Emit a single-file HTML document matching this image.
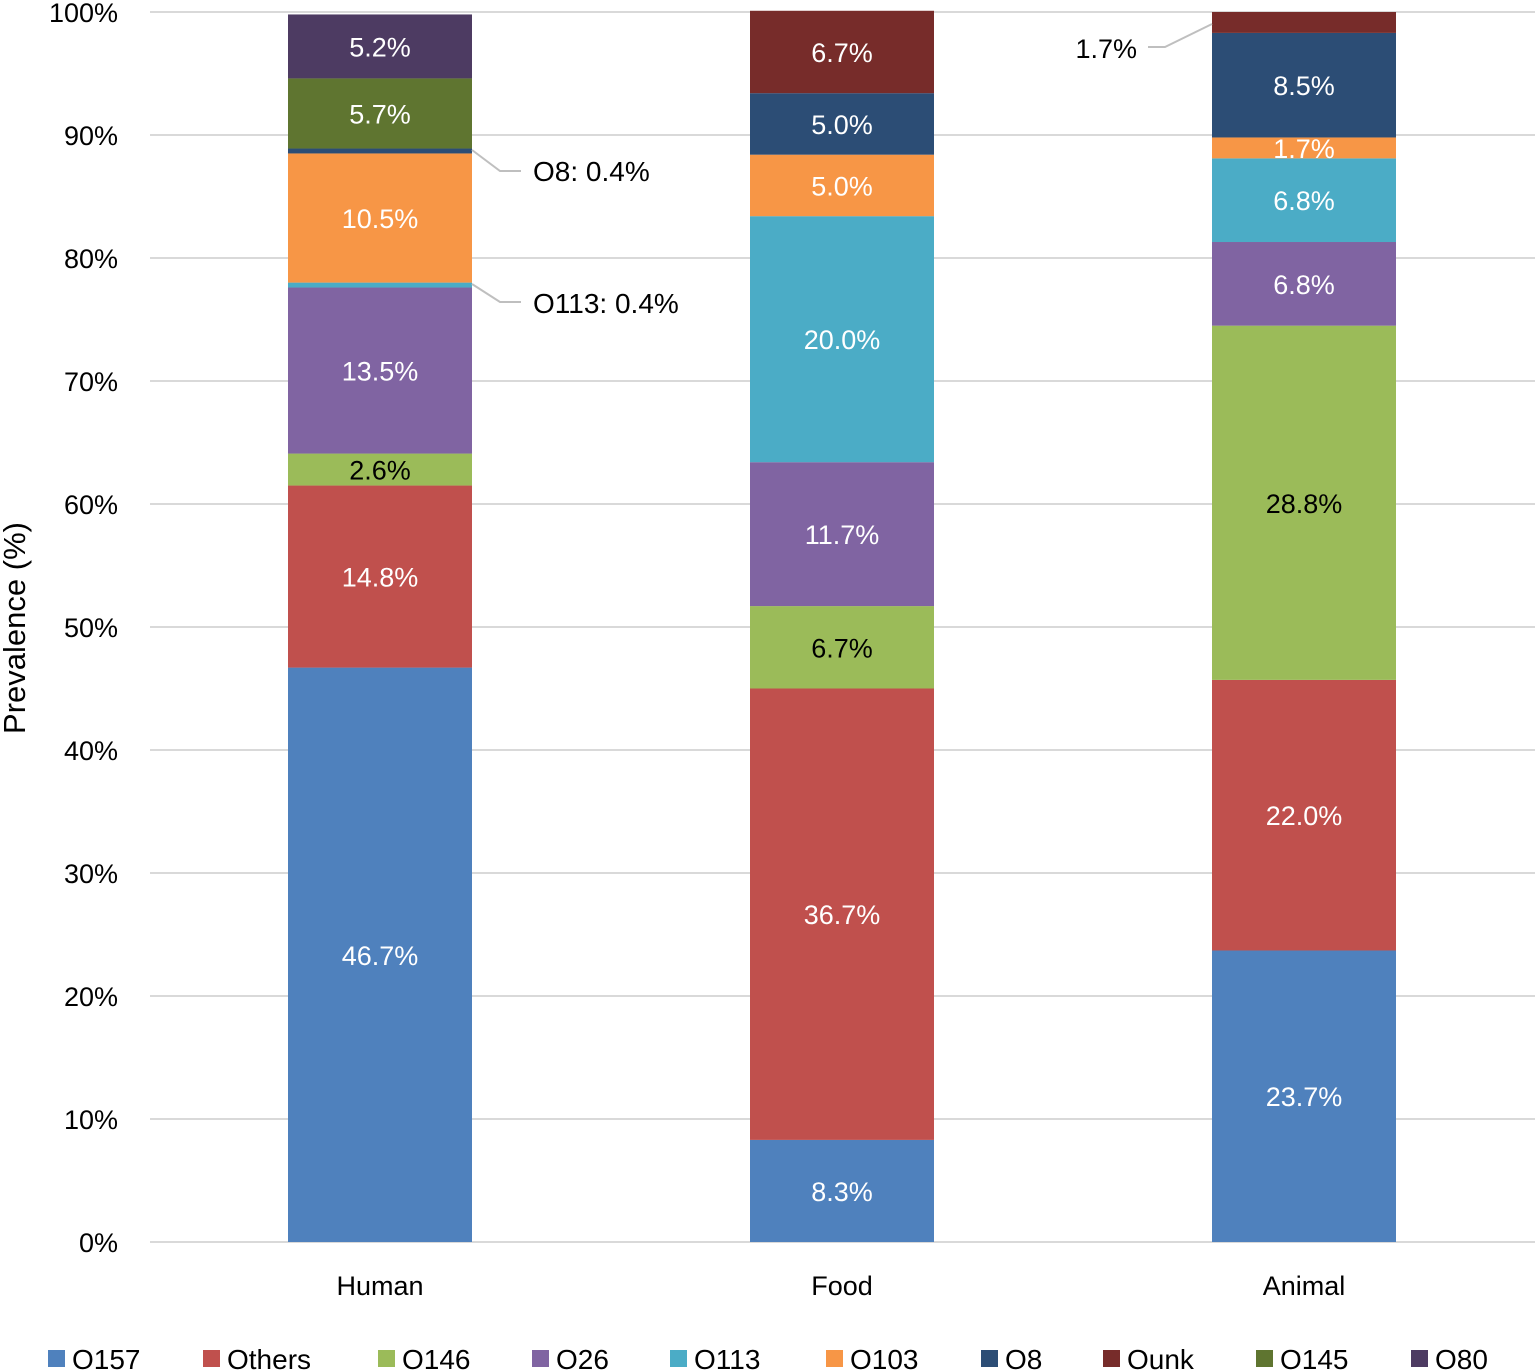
<!DOCTYPE html>
<html><head><meta charset="utf-8"><style>
body{margin:0;background:#fff}
svg{display:block;font-family:"Liberation Sans",sans-serif}
</style></head><body>
<svg id="chart" width="1535" height="1370" viewBox="0 0 1535 1370" xmlns="http://www.w3.org/2000/svg">
<g id="grid"></g>
<g id="yticks"></g>
<text transform="translate(25,628) rotate(-90)" text-anchor="middle" font-size="31" fill="#000">Prevalence (%)</text>
<g id="bars"></g>
<g id="xlabels"></g>
<g id="legend"></g>
<g stroke="#bfbfbf" stroke-width="2" fill="none">
<polyline points="472,150 500,171 521,171"/>
<polyline points="472,284 500,302 521,302"/>
<polyline points="1148,47 1165,47 1212,24"/>
</g>
<text x="533" y="181" font-size="28" fill="#000">O8: 0.4%</text>
<text x="533" y="313" font-size="28" fill="#000">O113: 0.4%</text>
<text x="1137" y="58" font-size="27" fill="#000" text-anchor="end">1.7%</text>
</svg>
<script>
const categories=["Human","Food","Animal"];
const seriesNames=["O157","Others","O146","O26","O113","O103","O8","Ounk","O145","O80"];
const seriesColors=["#4F81BD","#C0504D","#9BBB59","#8064A2","#4BACC6","#F79646","#2C4D75","#772C2A","#5F7530","#4D3B62"];
const humanValues=[46.7,14.8,2.6,13.5,0.4,10.5,0.4,0,5.7,5.2];
const foodValues=[8.3,36.7,6.7,11.7,20.0,5.0,5.0,6.7,0,0];
const animalValues=[23.7,22.0,28.8,6.8,6.8,1.7,8.5,1.7,0,0];
const yTicks=[0,10,20,30,40,50,60,70,80,90,100];
const legendX=[48,203,378,532,670,826,981,1103,1256,1411];
const NS="http://www.w3.org/2000/svg";
const y=v=>1242-v*12.3;
const xc=i=>380+i*462;
const BW=184;
function mk(t,a,p){const e=document.createElementNS(NS,t);for(const k in a)e.setAttribute(k,a[k]);p.appendChild(e);return e;}
const grid=document.getElementById('grid'),yt=document.getElementById('yticks');
yTicks.forEach(t=>{
 const l=mk('line',{x1:150,x2:1535,y1:y(t),y2:y(t),stroke:'#d9d9d9','stroke-width':2},grid);
 
 
 const tx=mk('text',{x:118,y:y(t)+10,'text-anchor':'end','font-size':27,fill:'#000'},yt);
 tx.textContent=t+'%';
 
 
});
const bars=document.getElementById('bars'),xl=document.getElementById('xlabels');
const all=[humanValues,foodValues,animalValues];
const hideLabel={"0-4":1,"0-6":1,"2-7":1};
all.forEach((vals,ci)=>{
 let cum=0;
 vals.forEach((v,si)=>{
  if(v<=0)return;
  const top=y(cum+v),bot=y(cum);
  const r=mk('rect',{x:xc(ci)-BW/2,y:top,width:BW,height:bot-top,fill:seriesColors[si]},bars);
  
  
  if(!hideLabel[ci+'-'+si]){
   const t=mk('text',{x:xc(ci),y:(top+bot)/2+10,'text-anchor':'middle','font-size':27,fill:si===2?'#000':'#fff'},bars);
   t.textContent=v.toFixed(1)+'%';
   
   
  }
  cum+=v;
 });
 const t=mk('text',{x:xc(ci),y:1295,'text-anchor':'middle','font-size':27,fill:'#000'},xl);
 t.textContent=categories[ci];
 
 
});
const lg=document.getElementById('legend');
seriesNames.forEach((n,i)=>{
 const r=mk('rect',{x:legendX[i],y:1350,width:17,height:17,fill:seriesColors[i]},lg);
 
 
 const t=mk('text',{x:legendX[i]+24,y:1369,'font-size':28,fill:'#000'},lg);
 t.textContent=n;
 
 
});
</script>
</body></html>
